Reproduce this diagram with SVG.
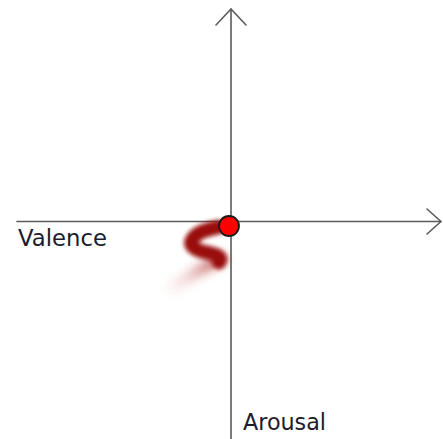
<svg xmlns="http://www.w3.org/2000/svg" width="443" height="439" viewBox="0 0 443 439">
<style>
.axis{stroke:#5a5a5a;stroke-width:1.6;fill:none;stroke-linecap:round;stroke-linejoin:round}
.lbl{font-family:"DejaVu Sans",Verdana,sans-serif;font-size:22.5px;fill:#1c1c2c}
</style>
<defs>
<filter id="blur" x="-50%" y="-50%" width="200%" height="200%"><feGaussianBlur stdDeviation="2.2"/></filter>
<filter id="blur2" x="-50%" y="-50%" width="200%" height="200%"><feGaussianBlur stdDeviation="4"/></filter>
<linearGradient id="tail" x1="222" y1="258" x2="165" y2="292" gradientUnits="userSpaceOnUse">
<stop offset="0" stop-color="#a31010" stop-opacity="0.75"/>
<stop offset="0.6" stop-color="#c04040" stop-opacity="0.2"/>
<stop offset="1" stop-color="#c04040" stop-opacity="0"/>
</linearGradient>
</defs>
<rect width="443" height="439" fill="#ffffff"/>
<g id="connectors">
<path class="axis" d="M17 221.5 H441"/>
<path class="axis" d="M427 209 L441 221.5 L427 234"/>
<path class="axis" d="M231 9 V439"/>
<path class="axis" d="M216 25 L231 9 L246 25"/>
</g>
<g id="trail">
<path d="M220 259 C205 266 188 278 166 292" stroke="url(#tail)" stroke-width="12" fill="none" stroke-linecap="round" filter="url(#blur2)"/>
<path d="M219 227 C208 229 196 232 192 240 C188 247 198 251 209 253 C218 255 222 258 219 262" stroke="#9a0a0a" stroke-width="14" fill="none" stroke-linecap="round" stroke-linejoin="round" filter="url(#blur)"/>
</g>
<g id="point">
<circle cx="229" cy="226" r="10" fill="#ff0000" stroke="#1a1a1a" stroke-width="1.8"/>
</g>
<g id="valence">
<text class="lbl" x="18" y="246" textLength="89" lengthAdjust="spacingAndGlyphs">Valence</text>
</g>
<g id="arousal">
<text class="lbl" x="243" y="430" textLength="83" lengthAdjust="spacingAndGlyphs">Arousal</text>
</g>
</svg>
